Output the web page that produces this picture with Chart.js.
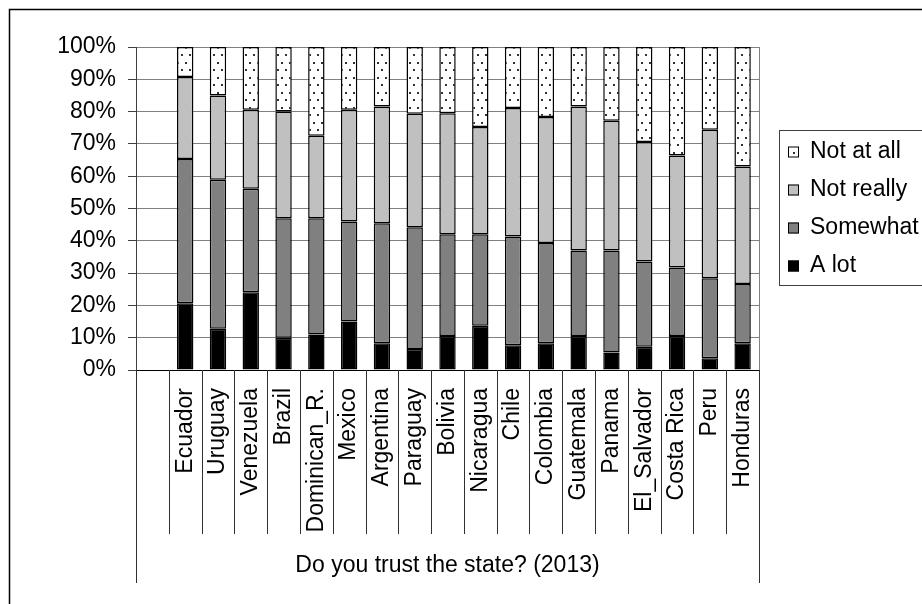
<!DOCTYPE html>
<html>
<head>
<meta charset="utf-8">
<script src="https://cdn.jsdelivr.net/npm/chart.js@4/dist/chart.umd.min.js"></script>
<style>
  html, body { margin: 0; padding: 0; background: #fff; }
  canvas { display: block; }
</style>
</head>
<body>
<canvas id="c" width="922" height="604"></canvas>
<script>
// Categories (first slot is an empty spacer on the axis)
const countries = ['', 'Ecuador', 'Uruguay', 'Venezuela', 'Brazil', 'Dominican_R.', 'Mexico',
  'Argentina', 'Paraguay', 'Bolivia', 'Nicaragua', 'Chile', 'Colombia', 'Guatemala',
  'Panama', 'El_Salvador', 'Costa Rica', 'Peru', 'Honduras'];

// Shares of answers (%)
const aLot      = [null, 20.7, 12.8, 24.1, 10.0, 11.0, 15.0, 8.3, 6.5, 10.5, 13.7, 7.7, 8.3, 10.5, 5.4, 7.2, 10.5, 3.6, 8.3];
const somewhat  = [null, 44.6, 46.1, 32.0, 37.0, 36.0, 31.0, 37.1, 37.7, 31.5, 28.3, 33.6, 31.0, 26.5, 31.6, 26.4, 21.2, 24.8, 18.3];
const notReally = [null, 25.4, 26.1, 24.5, 33.0, 25.5, 34.6, 36.2, 35.1, 37.5, 33.2, 39.8, 39.0, 44.6, 40.2, 37.0, 34.7, 46.0, 36.4];
const notAtAll  = [null, 9.3, 15.0, 19.4, 20.0, 27.5, 19.4, 18.4, 20.7, 20.5, 24.8, 18.9, 21.7, 18.4, 22.8, 29.4, 33.6, 25.6, 37.0];

const seriesNames = ['A lot', 'Somewhat', 'Not really', 'Not at all'];
const yTicks = [0, 10, 20, 30, 40, 50, 60, 70, 80, 90, 100];
const groupTitle = 'Do you trust the state? (2013)';

const FONT = 'Liberation Sans, Arial, sans-serif';
const FS = 23;

// Sparse dotted fill for the "Not at all" segments
function dotPattern() {
  const t = document.createElement('canvas');
  t.width = 8; t.height = 15;
  const g = t.getContext('2d');
  g.fillStyle = '#fff';
  g.fillRect(0, 0, 8, 15);
  g.fillStyle = '#333';
  g.fillRect(1, 2, 2, 2);
  g.fillRect(5, 9, 2, 2);
  return document.getElementById('c').getContext('2d').createPattern(t, 'repeat');
}
const dots = dotPattern();

const fills = ['#000000', '#808080', '#c0c0c0', dots];
const values = [aLot, somewhat, notReally, notAtAll];

const datasets = seriesNames.map((name, i) => ({
  label: name,
  data: values[i],
  backgroundColor: fills[i],
  borderColor: '#000',
  borderWidth: 1.5,
  borderSkipped: false,
  categoryPercentage: 1,
  barPercentage: 0.5
}));

// Extra drawing: plot frame, category separators, group label, legend box, outer frame
const decorations = {
  id: 'decorations',
  beforeDraw(chart) {
    const ctx = chart.ctx;
    ctx.save();
    ctx.fillStyle = '#fff';
    ctx.fillRect(0, 0, chart.width, chart.height);
    ctx.restore();
  },
  afterDraw(chart) {
    const { ctx, chartArea: a, scales: { x } } = chart;
    ctx.save();

    // right edge of plot area
    ctx.strokeStyle = '#808080';
    ctx.lineWidth = 1;
    ctx.beginPath();
    ctx.moveTo(Math.round(a.right) + 0.5, a.top);
    ctx.lineTo(Math.round(a.right) + 0.5, a.bottom);
    ctx.stroke();

    // category separators below the axis
    const half = (x.getPixelForValue(1) - x.getPixelForValue(0)) / 2;
    ctx.strokeStyle = '#303030';
    for (let i = 0; i <= countries.length; i++) {
      const px = Math.round(x.getPixelForValue(i) - half) + 0.5;
      const outer = (i === 0 || i === countries.length);
      ctx.beginPath();
      ctx.moveTo(px, a.bottom);
      ctx.lineTo(px, outer ? a.bottom + 213 : a.bottom + 164);
      ctx.stroke();
    }

    // group label
    ctx.fillStyle = '#000';
    ctx.font = FS + 'px ' + FONT;
    ctx.textAlign = 'center';
    ctx.textBaseline = 'middle';
    ctx.fillText(groupTitle, (a.left + a.right) / 2, a.bottom + 196);

    // legend (reverse stacking order)
    const lx = 779, ly = 130, lw = 143, lh = 155;
    ctx.strokeStyle = '#404040';
    ctx.strokeRect(lx + 0.5, ly + 0.5, lw, lh);
    const ds = chart.data.datasets.slice().reverse();
    ds.forEach((d, k) => {
      const cy = 152 + k * 38;
      ctx.fillStyle = d.backgroundColor;
      ctx.fillRect(788, cy - 5.5, 11, 11);
      ctx.strokeStyle = '#000';
      ctx.strokeRect(788.5, cy - 5, 10, 10);
      ctx.fillStyle = '#000';
      ctx.textAlign = 'left';
      ctx.textBaseline = 'middle';
      ctx.fillText(d.label, 810, cy);
    });

    // outer frame
    ctx.strokeStyle = '#000';
    ctx.lineWidth = 1.5;
    ctx.beginPath();
    ctx.moveTo(9.5, chart.height + 2);
    ctx.lineTo(9.5, 9.5);
    ctx.lineTo(chart.width + 2, 9.5);
    ctx.stroke();

    ctx.restore();
  }
};

new Chart(document.getElementById('c'), {
  type: 'bar',
  data: { labels: countries, datasets },
  options: {
    responsive: false,
    animation: false,
    devicePixelRatio: 1,
    layout: { padding: { top: 47, right: 163, bottom: 0, left: 0 } },
    plugins: {
      legend: { display: false },
      title: { display: false },
      tooltip: { enabled: false }
    },
    scales: {
      x: {
        stacked: true,
        offset: true,
        grid: { display: false, drawTicks: false },
        border: { display: true, color: '#000', width: 1 },
        ticks: {
          autoSkip: false,
          minRotation: 90,
          maxRotation: 90,
          padding: 18,
          color: '#000',
          font: { family: FONT, size: FS }
        },
        afterFit(s) { s.height = 234; }
      },
      y: {
        stacked: true,
        min: 0,
        max: 100,
        afterBuildTicks(s) { s.ticks = yTicks.map(v => ({ value: v })); },
        ticks: {
          callback: v => v + '%',
          color: '#000',
          padding: 12,
          font: { family: FONT, size: FS }
        },
        grid: { color: '#808080', lineWidth: 1, tickLength: 8, tickColor: '#404040' },
        border: { color: '#404040', width: 1 },
        afterFit(s) { s.width = 136; }
      }
    }
  },
  plugins: [decorations]
});
</script>
</body>
</html>
